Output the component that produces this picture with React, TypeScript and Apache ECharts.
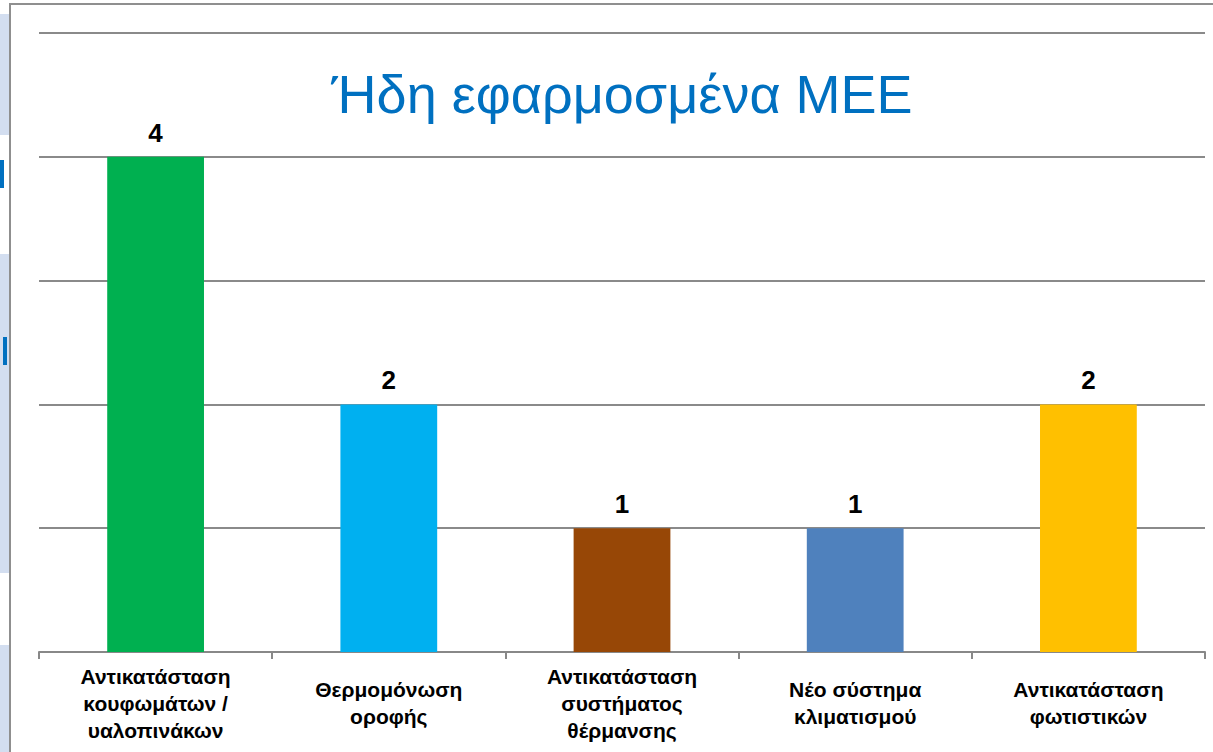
import React, { useEffect, useRef } from "react";
import * as echarts from "echarts";

const categories = [
  "Αντικατάσταση\nκουφωμάτων /\nυαλοπινάκων",
  "Θερμομόνωση\nοροφής",
  "Αντικατάσταση\nσυστήματος\nθέρμανσης",
  "Νέο σύστημα\nκλιματισμού",
  "Αντικατάσταση\nφωτιστικών",
];
const values = [4, 2, 1, 1, 2];
const barColors = ["#00B050", "#00B0F0", "#974706", "#4F81BD", "#FFC000"];
const titleText = "Ήδη εφαρμοσμένα ΜΕΕ";

export default function App() {
  const ref = useRef<HTMLDivElement>(null);
  useEffect(() => {
    if (!ref.current) return;
    const chart = echarts.init(ref.current, null, { renderer: "svg" });
    const font = "'Liberation Sans', Arial, sans-serif";
    chart.setOption({
      animation: false,
      backgroundColor: "#ffffff",
      textStyle: { fontFamily: font },
      grid: { left: 39, right: 8, top: 33, bottom: 100, containLabel: false },
      xAxis: {
        type: "category",
        data: categories,
        axisLine: { show: true, lineStyle: { color: "#888888", width: 2 } },
        axisTick: { show: true, length: 7, lineStyle: { color: "#888888", width: 2 } },
        axisLabel: {
          interval: 0,
          color: "#000000",
          fontSize: 21,
          fontWeight: "bold",
          fontFamily: font,
          lineHeight: 27,
          verticalAlign: "middle",
          margin: 51,
        },
      },
      yAxis: {
        type: "value",
        min: 0,
        max: 5,
        interval: 1,
        axisLabel: { show: false },
        axisLine: { show: false },
        axisTick: { show: false },
        splitLine: { show: true, lineStyle: { color: "#8a8a8a", width: 2 } },
      },
      series: [
        {
          type: "bar",
          data: values.map((v, i) => ({ value: v, itemStyle: { color: barColors[i] } })),
          barWidth: "41.5%",
          label: {
            show: true,
            position: "top",
            distance: 11,
            color: "#000000",
            fontSize: 26,
            fontWeight: "bold",
            fontFamily: font,
          },
        },
      ],
      graphic: [
        { type: "rect", z: -10, shape: { x: 0, y: 14, width: 10, height: 121 }, style: { fill: "#d3def0" } },
        { type: "rect", z: -10, shape: { x: 0, y: 160, width: 4, height: 28 }, style: { fill: "#0070C0" } },
        { type: "rect", z: -10, shape: { x: 0, y: 254, width: 10, height: 319 }, style: { fill: "#d3def0" } },
        { type: "rect", z: -10, shape: { x: 3, y: 337, width: 4, height: 28 }, style: { fill: "#0070C0" } },
        { type: "rect", z: -10, shape: { x: 0, y: 645, width: 10, height: 110 }, style: { fill: "#d3def0" } },
        {
          type: "rect",
          z: -9,
          shape: { x: 10, y: 4, width: 1220, height: 770 },
          style: { fill: "#ffffff", stroke: "#8f8f8f", lineWidth: 2 },
        },
        {
          type: "text",
          z: 10,
          style: {
            text: titleText,
            x: 622,
            y: 94,
            align: "center",
            verticalAlign: "middle",
            fill: "#0070C0",
            font: "54px " + font,
          },
        },
      ],
    });
    return () => chart.dispose();
  }, []);
  return (
    <div
      ref={ref}
      style={{ position: "absolute", left: 0, top: 0, width: 1213, height: 752 }}
    />
  );
}
